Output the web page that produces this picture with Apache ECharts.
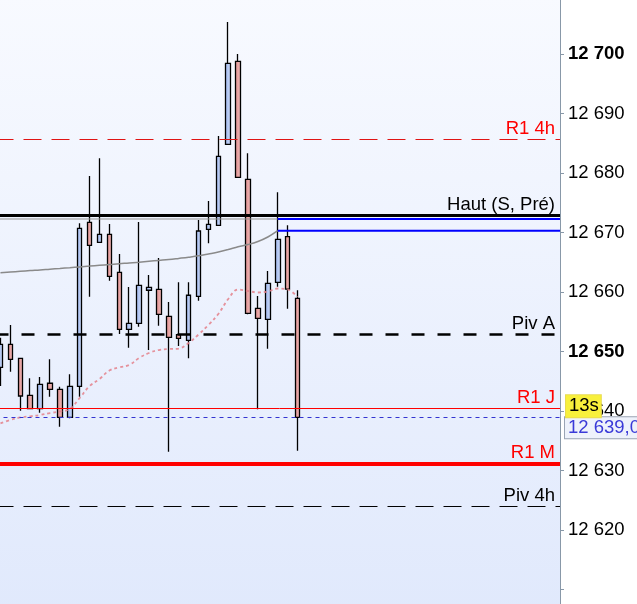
<!DOCTYPE html>
<html>
<head>
<meta charset="utf-8">
<script src="https://cdn.jsdelivr.net/npm/echarts@6/dist/echarts.min.js"></script>
<style>
html,body{margin:0;padding:0;background:#ffffff;}
#chart{width:637px;height:604px;}
</style>
</head>
<body>
<div id="chart"></div>
<script>
// ---- data ----
const slotCount = 57; // visible category slots (candles + empty future space)
const categories = Array.from({length: slotCount}, (_, i) => 'B' + (i + 1));

const opens  = [12647.34,12651.21,12648.86,12642.64,12640.39,12644.66,12643.65,12638.94,12644.15,12671.71,
                12668.35,12669.70,12663.31,12653.73,12654.74,12660.29,12660.45,12655.92,12652.82,12651.88,
                12659.28,12670.54,12671.21,12684.82,12698.77,12678.94,12657.26,12655.41,12661.63,12669.29,12658.94];
const closes = [12651.21,12648.69,12642.52,12640.39,12644.49,12643.65,12638.94,12644.15,12670.71,12667.85,
                12669.70,12662.64,12653.73,12654.74,12661.13,12660.79,12656.25,12652.39,12652.22,12659.45,
                12670.25,12671.38,12682.81,12698.44,12679.28,12656.42,12655.58,12661.46,12668.86,12660.50,12638.94];
const lows   = [12644.20,12646.60,12640.05,12640.30,12639.71,12642.40,12637.36,12638.80,12642.40,12659.21,
                12668.35,12661.90,12652.94,12650.64,12654.17,12650.25,12654.34,12633.16,12650.92,12648.86,
                12658.54,12668.18,12671.21,12684.82,12679.28,12656.25,12640.29,12650.47,12660.89,12657.20,12633.33];
const highs  = [12652.32,12654.45,12648.86,12645.50,12645.71,12648.69,12644.08,12646.17,12671.55,12679.50,
                12682.47,12671.43,12666.39,12660.84,12671.76,12662.86,12665.71,12658.32,12661.63,12661.63,
                12672.10,12675.29,12686.22,12705.38,12700.00,12683.31,12659.33,12663.53,12676.76,12671.21,12660.29];

// slow moving average (grey solid)
const maSlow = [12663.24,12663.36,12663.48,12663.60,12663.70,12663.83,12663.95,12664.08,12664.22,12664.35,
                12664.49,12664.62,12664.76,12664.87,12665.01,12665.16,12665.31,12665.46,12665.65,12665.85,
                12666.08,12666.39,12666.72,12667.14,12667.61,12667.98,12668.49,12669.24,12670.30];
// fast moving average (pink dotted)
const maFast = [12637.93,12638.49,12638.91,12639.11,12639.33,12639.66,12639.92,12640.34,12642.18,12644.20,
                12645.38,12646.81,12647.34,12647.73,12648.91,12649.75,12650.25,12650.42,12650.50,12651.43,
                12652.86,12654.45,12656.30,12658.82,12660.42,12660.17,12659.92,12660.08,12660.59,12660.42,12659.16];

// horizontal levels
const levelNames  = ['R1 4h', 'Haut (S, Pré)', 'Piv A', 'R1 J', 'R1 M', 'Piv 4h'];
const levelValues = [12685.66, 12672.94, 12652.82, 12640.45, 12631.14, 12623.98];
const lastPrice = 12638.94;
const lastPriceLabel = '12 639,0';
const timerLabel = '13s';
const prevHigh = 12672.27;     // grey/blue level
const maSlowLast = 12670.30;   // blue level
const segmentStart = 28;       // candle index where blue segments start

const yTicks = {min: 12600, max: 12710, step: 10, lowestLabel: 12620};

// ---- build ----
const candleData = opens.map((o, i) => [o, closes[i], lows[i], highs[i]]);
const pad = arr => arr.concat(Array(slotCount - arr.length).fill('-'));

const FONT = 'Liberation Sans, Arial, sans-serif';
const FS = 18.5;
const fmt = v => String(v).replace(/\B(?=(\d{3})+(?!\d))/g, ' ');

const levelStyles = [
  {line: {color: '#e01414', width: 1, type: [18, 10]}, color: '#ff0000'},
  {line: {color: '#000000', width: 3, type: 'solid'}, color: '#000000'},
  {line: {color: '#000000', width: 2.5, type: [13, 13]}, color: '#000000'},
  {line: {color: '#ff0000', width: 1, type: 'solid'}, color: '#ff0000'},
  {line: {color: '#ff0000', width: 4, type: 'solid'}, color: '#ff0000'},
  {line: {color: '#000000', width: 1, type: [18, 10]}, color: '#000000'}
];

const markData = levelValues.map((v, i) => ({
  yAxis: v,
  lineStyle: levelStyles[i].line,
  label: {
    show: true, position: 'insideEndTop', distance: [5, 1],
    formatter: levelNames[i], color: levelStyles[i].color,
    fontSize: FS, fontFamily: FONT
  }
}));
markData.push({
  yAxis: lastPrice,
  lineStyle: {color: '#3434d0', width: 1, type: [4, 4]},
  label: {
    show: true, position: 'end', distance: 5, formatter: lastPriceLabel,
    verticalAlign: 'top', color: '#3a3ad8', fontSize: FS, fontFamily: FONT,
    backgroundColor: '#eef2fb', borderColor: '#9aa4b4', borderWidth: 1,
    padding: [2, 6, 1, 3], lineHeight: 18
  }
});
markData.push({
  yAxis: lastPrice,
  lineStyle: {color: 'rgba(0,0,0,0)', width: 0},
  label: {
    show: true, position: 'end', distance: 6, formatter: timerLabel,
    verticalAlign: 'bottom', color: '#000000', fontSize: FS, fontFamily: FONT,
    backgroundColor: '#f8f03c', borderColor: '#e8dc50', borderWidth: 1,
    padding: [2, 2, 2, 3], lineHeight: 18
  }
});

const chart = echarts.init(document.getElementById('chart'), null, {renderer: 'canvas'});
chart.setOption({
  animation: false,
  backgroundColor: '#ffffff',
  grid: {
    left: -4.5, right: 77, top: -5.5, bottom: -45,
    containLabel: false, outerBoundsMode: 'none',
    show: true, borderWidth: 0,
    backgroundColor: new echarts.graphic.LinearGradient(0, 0, 0, 1, [
      {offset: 0, color: '#f8faff'},
      {offset: 1, color: '#dfe8fc'}
    ])
  },
  xAxis: [
    {type: 'category', data: categories, boundaryGap: true, show: false},
    {type: 'value', min: -0.5, max: slotCount - 0.5, show: false}
  ],
  yAxis: {
    type: 'value', position: 'right',
    min: yTicks.min, max: yTicks.max, interval: yTicks.step,
    splitLine: {show: false},
    axisLine: {show: true, onZero: false, lineStyle: {color: '#8898a8', width: 1}},
    axisTick: {show: true, length: 4, lineStyle: {color: '#8898a8'}},
    axisLabel: {
      margin: 8, color: '#000000', fontSize: FS, fontFamily: FONT,
      showMaxLabel: true, hideOverlap: false,
      formatter: v => (v < yTicks.lowestLabel ? '' : (v % 50 === 0 ? '{b|' + fmt(v) + '}' : fmt(v))),
      rich: {b: {fontWeight: 'bold', fontSize: FS, fontFamily: FONT, color: '#000000'}}
    }
  },
  series: [
    {
      type: 'candlestick',
      xAxisIndex: 0, yAxisIndex: 0,
      data: pad(candleData),
      barWidth: 5,
      itemStyle: {
        color: new echarts.graphic.LinearGradient(0, 0, 1, 0, [
          {offset: 0, color: '#9db6ee'}, {offset: 1, color: '#cfdcf9'}
        ]),
        color0: new echarts.graphic.LinearGradient(0, 0, 1, 0, [
          {offset: 0, color: '#de8e8e'}, {offset: 1, color: '#f2bcbc'}
        ]),
        borderColor: '#000000', borderColor0: '#000000', borderWidth: 1.3
      },
      markLine: {
        silent: true, symbol: 'none', animation: false,
        data: markData
      },
      z: 2
    },
    {
      type: 'line', name: 'MA slow', xAxisIndex: 0, yAxisIndex: 0,
      data: pad(maSlow), showSymbol: false, symbol: 'none', smooth: 0.4,
      lineStyle: {color: '#8a8a8a', width: 1.5}, z: 3
    },
    {
      type: 'line', name: 'MA fast', xAxisIndex: 0, yAxisIndex: 0,
      data: pad(maFast), showSymbol: false, symbol: 'none', smooth: 0.4,
      lineStyle: {color: 'rgba(228,128,138,0.85)', width: 1.8, type: [3, 3]}, z: 3
    },
    {
      type: 'line', name: 'prev grey', xAxisIndex: 1, yAxisIndex: 0,
      data: [[-0.5, prevHigh], [segmentStart, prevHigh]], symbol: 'none',
      lineStyle: {color: '#909090', width: 1}, z: 3
    },
    {
      type: 'line', name: 'prev blue', xAxisIndex: 1, yAxisIndex: 0,
      data: [[segmentStart, prevHigh], [slotCount - 0.5, prevHigh]], symbol: 'none',
      lineStyle: {color: '#0000ff', width: 2}, z: 4
    },
    {
      type: 'line', name: 'ma blue', xAxisIndex: 1, yAxisIndex: 0,
      data: [[segmentStart, maSlowLast], [slotCount - 0.5, maSlowLast]], symbol: 'none',
      lineStyle: {color: '#0000ff', width: 2}, z: 4
    }
  ]
});
</script>
</body>
</html>
